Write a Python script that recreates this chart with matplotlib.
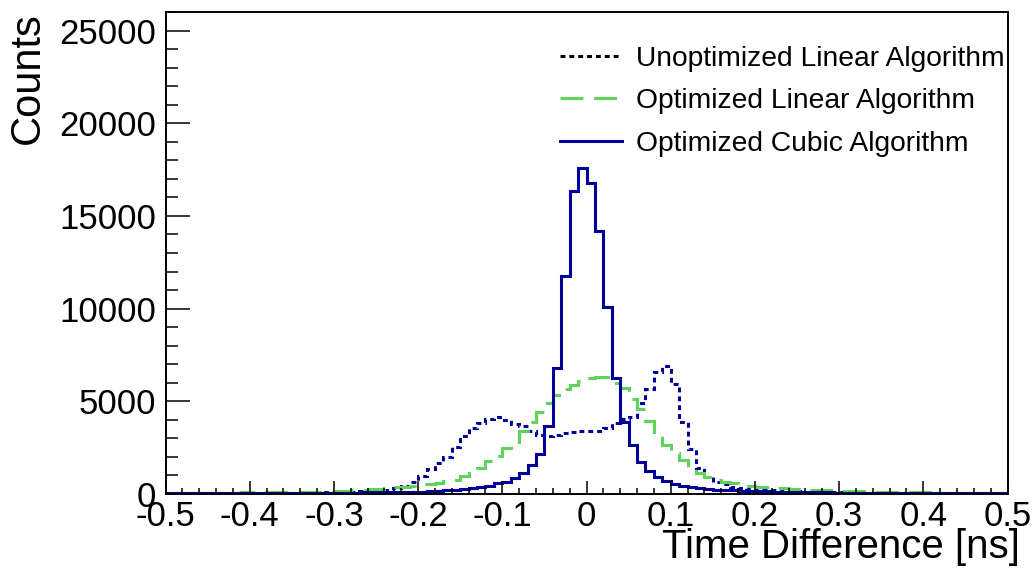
import numpy as np
import matplotlib
matplotlib.use("Agg")
import matplotlib.pyplot as plt
from matplotlib.ticker import MultipleLocator
from matplotlib.lines import Line2D

plt.rcParams['font.family'] = ['Liberation Sans', 'DejaVu Sans']

# ---------------- data ----------------
bin_lo, bin_hi, n_bins = -0.5, 0.5, 100

labels = ["Unoptimized Linear Algorithm",
          "Optimized Linear Algorithm",
          "Optimized Cubic Algorithm"]

# counts per 0.01 ns bin, from -0.50 to +0.50
unopt_linear = [
    40, 40, 40, 45, 45, 45, 50, 50, 50, 55,
    55, 60, 60, 65, 70, 75, 80, 85, 90, 100,
    110, 120, 130, 150, 170, 200, 240, 300, 440, 664,
    972, 1350, 1656, 2014, 2556, 3132, 3548, 3850, 4034, 4174,
    4000, 3800, 3650, 3400, 3200, 3130, 3180, 3300, 3320, 3380,
    3400, 3420, 3550, 3820, 4030, 4180, 4900, 5670, 6600, 6910,
    5920, 3900, 2410, 1390, 940, 670, 520, 400, 330, 280,
    240, 210, 190, 170, 150, 140, 130, 120, 110, 100,
    95, 90, 85, 80, 75, 70, 65, 60, 55, 50,
    50, 45, 45, 45, 40, 40, 40, 40, 35, 35,
]

opt_linear = [
    70, 70, 75, 75, 75, 80, 80, 80, 80, 85,
    85, 90, 90, 95, 95, 100, 100, 105, 110, 120,
    150, 170, 190, 220, 250, 280, 320, 362, 400, 432,
    520, 560, 600, 680, 780, 950, 1150, 1400, 1800, 2052,
    2502, 2826, 3402, 3906, 4400, 4896, 5346, 5652, 5886, 6120,
    6280, 6334, 6334, 6000, 5706, 5112, 4572, 3942, 3366, 2646,
    2196, 1836, 1476, 1152, 900, 756, 664, 578, 486, 432,
    390, 360, 330, 300, 280, 260, 240, 220, 200, 180,
    160, 150, 140, 130, 120, 115, 110, 100, 95, 90,
    85, 80, 80, 75, 75, 70, 70, 70, 65, 65,
]

opt_cubic = [
    30, 30, 30, 30, 30, 35, 35, 35, 35, 40,
    40, 40, 45, 45, 50, 50, 55, 60, 60, 65,
    70, 75, 80, 85, 90, 95, 100, 110, 115, 120,
    130, 150, 170, 200, 220, 254, 308, 362, 432, 578,
    664, 848, 1118, 1566, 2160, 3672, 6788, 11772, 16324, 17588,
    16778, 14202, 10114, 6248, 3904, 2646, 1744, 1258, 934, 702,
    560, 432, 362, 308, 254, 230, 216, 200, 180, 160,
    150, 140, 130, 120, 110, 100, 95, 90, 85, 80,
    75, 70, 65, 60, 55, 50, 50, 45, 45, 40,
    40, 40, 35, 35, 35, 30, 30, 30, 30, 30,
]

xtick_values = [-0.5, -0.4, -0.3, -0.2, -0.1, 0.0, 0.1, 0.2, 0.3, 0.4, 0.5]
xtick_labels = ["-0.5", "-0.4", "-0.3", "-0.2", "-0.1", "0",
                "0.1", "0.2", "0.3", "0.4", "0.5"]
ytick_values = [0, 5000, 10000, 15000, 20000, 25000]
ytick_labels = ["0", "5000", "10000", "15000", "20000", "25000"]

x_title = "Time Difference [ns]"
y_title = "Counts"

# ---------------- style ----------------
W, H = 1036, 575
DARK_BLUE = '#000099'
GREEN = '#5fd35a'
LW = 2.2
DOT = (0, (1.6, 1.3))
DASH = (0, (7.5, 3.5))

fig = plt.figure(figsize=(W / 100, H / 100), dpi=100)
ax = fig.add_axes([165.5 / W, 1 - 494 / H, (1007.5 - 165.5) / W, (494 - 12) / H])

edges = np.linspace(bin_lo, bin_hi, n_bins + 1)

ax.stairs(unopt_linear, edges, color=DARK_BLUE, lw=LW, linestyle=DOT)
ax.stairs(opt_linear, edges, color=GREEN, lw=LW, linestyle=DASH)
ax.stairs(opt_cubic, edges, color=DARK_BLUE, lw=LW, linestyle='-')

ax.set_xlim(bin_lo, bin_hi)
ax.set_ylim(0, 26000)

ax.set_xticks(xtick_values)
ax.set_xticklabels(xtick_labels)
ax.set_yticks(ytick_values)
ax.set_yticklabels(ytick_labels)
ax.xaxis.set_minor_locator(MultipleLocator(0.02))
ax.yaxis.set_minor_locator(MultipleLocator(1000))

ax.tick_params(axis='both', which='both', direction='in', width=1.1,
               colors='black', labelsize=25)
ax.tick_params(axis='x', which='major', length=9.4, pad=4)
ax.tick_params(axis='x', which='minor', length=4.3)
ax.tick_params(axis='y', which='major', length=17.3, pad=7)
ax.tick_params(axis='y', which='minor', length=8.6)

for sp in ax.spines.values():
    sp.set_linewidth(1.4)

fig.text(1020 / W, 1 - 558 / H, x_title, ha='right', va='baseline', fontsize=29)
fig.text(48 / W, 1 - 12 / H, y_title, ha='right', va='top', rotation=90, fontsize=30)

handles = [Line2D([], [], color='black', lw=LW, linestyle=DOT),
           Line2D([], [], color=GREEN, lw=LW, linestyle=DASH),
           Line2D([], [], color=DARK_BLUE, lw=LW, linestyle='-')]
ax.legend(handles, labels, loc='upper left',
          bbox_to_anchor=(560 / W, 1 - 46 / H),
          bbox_transform=fig.transFigure, frameon=False, fontsize=20.3,
          borderpad=0, borderaxespad=0, handlelength=2.2,
          handletextpad=0.5, labelspacing=0.58)

fig.savefig("out.png", dpi=100)
